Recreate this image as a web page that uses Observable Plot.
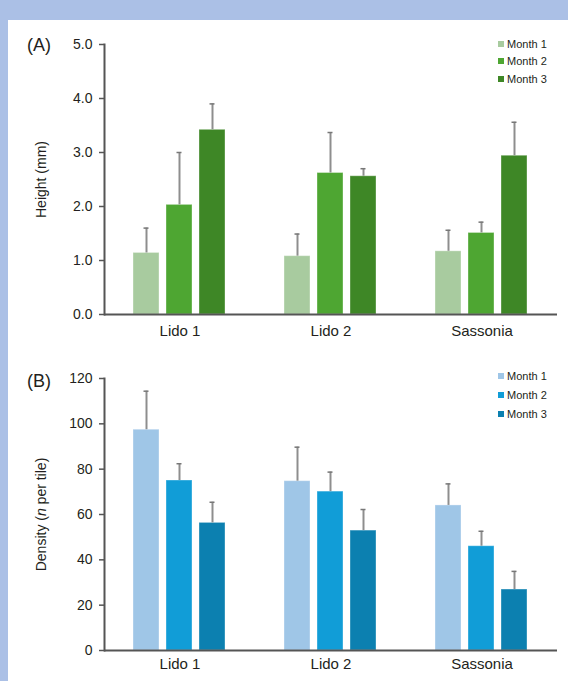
<!DOCTYPE html>
<html><head><meta charset="utf-8">
<script src="https://cdn.jsdelivr.net/npm/d3@7"></script>
<script src="https://cdn.jsdelivr.net/npm/@observablehq/plot@0.6"></script>
<style>
html,body{margin:0;padding:0;}
body{width:568px;height:681px;background:#abc0e6;position:relative;overflow:hidden;font-family:"Liberation Sans",Arial,sans-serif;color:#231f20;}
#panel{position:absolute;left:8px;top:20px;width:560px;height:661px;background:#fff;}
.plot{position:absolute;left:8px;}
.tag{position:absolute;font-size:18px;line-height:18px;left:27px;}
.legend{position:absolute;left:498px;font-size:11px;}
.legend .item{display:flex;align-items:center;}
.legend .sw{width:6px;height:6px;margin-right:3px;}
</style></head>
<body>
<div id="panel"></div>
<script>
const sites = ["Lido 1", "Lido 2", "Sassonia"];
const months = ["Month 1", "Month 2", "Month 3"];
// Height (mm): mean per month, per site
const heightMean = [[1.14, 1.08, 1.17], [2.03, 2.62, 1.51], [3.42, 2.56, 2.94]];
const heightSd   = [[0.46, 0.41, 0.39], [0.97, 0.75, 0.20], [0.48, 0.14, 0.62]];
// Density (n per tile)
const densityMean = [[97.4, 74.7, 64.0], [75.0, 70.1, 46.0], [56.3, 52.9, 26.9]];
const densitySd   = [[17.0, 15.0, 9.5], [7.4, 8.6, 6.6], [9.1, 9.3, 8.0]];
const heightTicks = [0, 1, 2, 3, 4, 5];
const densityTicks = [0, 20, 40, 60, 80, 100, 120];
const greens = ["#a8cb9f", "#4ea632", "#3e8726"];
const blues = ["#9fc6e7", "#119dd7", "#0c80b0"];

function rowsOf(mean, sd) {
  return sites.flatMap((s, i) => months.map((m, j) => ({site: s, month: m, mean: mean[j][i], sd: sd[j][i]})));
}

function panel({rows, yDomain, yTicks, fmt, labelText, colors, height, marginTop, marginBottom, tickPadX}) {
  return Plot.plot({
    width: 560, height, marginTop, marginBottom, marginLeft: 95, marginRight: 11,
    style: {fontFamily: "'Liberation Sans', Arial, sans-serif", fontSize: "14px", color: "#231f20", background: "transparent", overflow: "visible"},
    fx: {domain: sites, padding: 0},
    x: {domain: months, paddingInner: 0.21, paddingOuter: 0.865, axis: null},
    y: {domain: yDomain},
    color: {domain: months, range: colors},
    marks: [
      Plot.barY(rows, {fx: "site", x: "month", y: "mean", fill: "month", stroke: "#fff", strokeOpacity: 0.35}),
      Plot.ruleX(rows, {fx: "site", x: "month", y1: "mean", y2: d => d.mean + d.sd, stroke: "#8e8e8e", strokeWidth: 2}),
      Plot.tickY(rows, {fx: "site", x: "month", y: d => d.mean + d.sd, stroke: "#777", strokeWidth: 1.5, insetLeft: 10.5, insetRight: 10.5}),
      Plot.ruleY([0], {stroke: "#555", strokeWidth: 2}),
      Plot.frame({anchor: "left", facetAnchor: "left", stroke: "#555", strokeWidth: 2}),
      Plot.axisY({ticks: yTicks, tickFormat: fmt, tickSize: 5, tickPadding: 7, stroke: "#555", strokeWidth: 1.5,
        label: labelText, labelAnchor: "center", labelArrow: "none", labelOffset: 68}),
      Plot.axisFx({anchor: "bottom", tickSize: 0, tickPadding: tickPadX, label: null, fontSize: 15})
    ]
  });
}

function addLegend(colors, top, step) {
  const div = document.createElement("div");
  div.className = "legend";
  div.style.top = top + "px";
  months.forEach((m, i) => {
    const it = document.createElement("div");
    it.className = "item";
    it.style.height = step + "px";
    const sw = document.createElement("span");
    sw.className = "sw";
    sw.style.background = colors[i];
    it.appendChild(sw);
    it.appendChild(document.createTextNode(m));
    div.appendChild(it);
  });
  document.body.appendChild(div);
}
function addTag(txt, top) {
  const d = document.createElement("div");
  d.className = "tag"; d.style.top = top + "px"; d.textContent = txt;
  document.body.appendChild(d);
}

const a = panel({rows: rowsOf(heightMean, heightSd), yDomain: [0, 5], yTicks: heightTicks, fmt: d3.format(".1f"),
  labelText: "Height (mm)", colors: greens, height: 330, marginTop: 24, marginBottom: 36, tickPadX: 11});
a.classList.add("plot"); a.style.top = "20px";
document.body.appendChild(a);

const b = panel({rows: rowsOf(densityMean, densitySd), yDomain: [0, 120], yTicks: densityTicks, fmt: d3.format("d"),
  labelText: "Density (n per tile)", colors: blues, height: 326, marginTop: 23, marginBottom: 31, tickPadX: 8});
b.classList.add("plot"); b.style.top = "355px";
document.body.appendChild(b);

// italic n in density label
b.querySelectorAll("text").forEach(t => {
  if (t.textContent === "Density (n per tile)") {
    const parts = [["Density (", false], ["n", true], [" per tile)", false]];
    t.textContent = "";
    parts.forEach(([s, it]) => {
      const ts = document.createElementNS("http://www.w3.org/2000/svg", "tspan");
      ts.textContent = s;
      if (it) ts.setAttribute("font-style", "italic");
      t.appendChild(ts);
    });
  }
});

addTag("(A)", 36);
addTag("(B)", 372);
addLegend(greens, 35, 17.5);
addLegend(blues, 366, 19);
</script>
</body></html>
